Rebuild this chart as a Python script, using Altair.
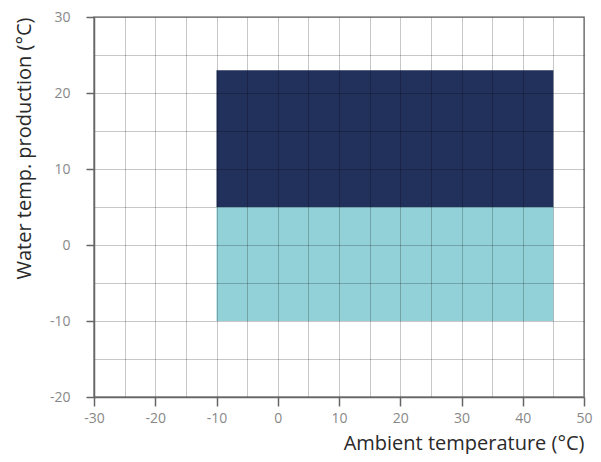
import altair as alt
import pandas as pd

# Operating ranges
zone_names = ["Heating", "Cooling"]
x_start = [-10, -10]
x_end = [45, 45]
y_start = [5, -10]
y_end = [23, 5]
zone_colors = ["#22305c", "#93d1d8"]

x_grid = list(range(-30, 55, 5))
y_grid = list(range(-20, 35, 5))

df = pd.DataFrame({"zone": zone_names, "x": x_start, "x2": x_end, "y": y_start, "y2": y_end})

tick_cond = {"condition": {"test": "datum.value % 10 !== 0", "value": 0}, "value": 1}
label_expr = "datum.value % 10 === 0 ? toString(datum.value) : ''"
FONT = "Open Sans"

x_axis = alt.Axis(values=x_grid, title="Ambient temperature (°C)", grid=True, zindex=1,
                  labelExpr=label_expr,
                  tickOpacity=tick_cond, tickSize=9, tickColor="#666", tickWidth=1.5,
                  domainColor="#666", domainWidth=1.5,
                  gridColor="#000", gridOpacity=0.22, gridWidth=1,
                  labelColor="#888", labelFontSize=14, labelFont=FONT, labelPadding=5,
                  titleFont=FONT, titleFontSize=20, titleFontWeight="normal", titleColor="#2a2a2a",
                  titleAnchor="end", titlePadding=8, labelFlush=False)
y_axis = alt.Axis(values=y_grid, title="Water temp. production (°C)", grid=True, zindex=1,
                  labelExpr=label_expr,
                  tickOpacity=tick_cond, tickSize=8, tickColor="#666", tickWidth=1.5,
                  domainColor="#666", domainWidth=1.5,
                  gridColor="#000", gridOpacity=0.22, gridWidth=1,
                  labelColor="#888", labelFontSize=14, labelFont=FONT, labelPadding=16,
                  titleFont=FONT, titleFontSize=20, titleFontWeight="normal", titleColor="#2a2a2a",
                  titleAnchor="end", titlePadding=15, labelFlush=False)

chart = alt.Chart(df).mark_rect().encode(
    x=alt.X("x:Q", scale=alt.Scale(domain=[-30, 50], nice=False, zero=False), axis=x_axis),
    x2="x2:Q",
    y=alt.Y("y:Q", scale=alt.Scale(domain=[-20, 30], nice=False, zero=False), axis=y_axis),
    y2="y2:Q",
    color=alt.Color("zone:N", scale=alt.Scale(domain=zone_names, range=zone_colors), legend=None),
).properties(
    width=490, height=380,
    autosize=alt.AutoSizeParams(type="none"),
    padding={"left": 86, "top": 9, "right": 9, "bottom": 57},
).configure_view(stroke="#888", strokeWidth=1.5)

chart.save("out.html", embed_options={"renderer": "svg", "actions": False})
